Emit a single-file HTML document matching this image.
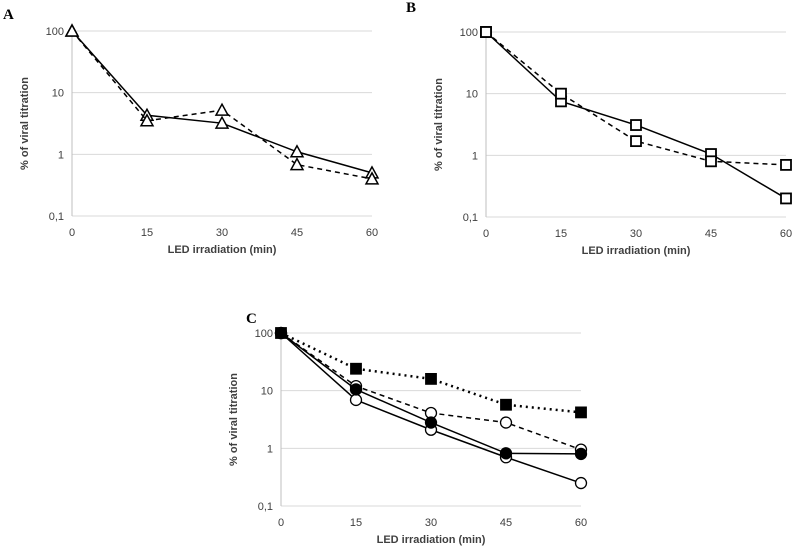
<!DOCTYPE html>
<html><head><meta charset="utf-8"><style>
body{margin:0;background:#fff;width:792px;height:548px;overflow:hidden}
svg{display:block;font-family:"Liberation Sans",sans-serif}
</style></head><body>
<svg id="chart" width="792" height="548"></svg>
<script>
const xCats=[0,15,30,45,60];
const yTicks=[100,10,1,0.1];
const yTickLabels=["100","10","1","0,1"];
const aSolid=[100,4.3,3.2,1.1,0.5];
const aDashed=[100,3.5,5.2,0.68,0.4];
const bSolid=[100,7.5,3.1,1.05,0.2];
const bDashed=[100,10,1.7,0.8,0.7];
const cDottedSq=[100,24,16,5.7,4.2];
const cDashedOpen=[100,12,4.1,2.8,0.95];
const cSolidFilled=[100,10.5,2.8,0.82,0.8];
const cSolidOpen=[100,6.9,2.1,0.7,0.25];

const NS="http://www.w3.org/2000/svg";
const svg=document.getElementById('chart');
function mk(t,a,p){const e=document.createElementNS(NS,t);for(const k in a)e.setAttribute(k,a[k]);(p||svg).appendChild(e);return e;}

function panel(name,letter,lx,ly,x0,x1,yTop,yBot,series){
  const g=mk('g',{});
  
  
  const xs=v=>x0+(v-0)/60*(x1-x0);
  const ys=v=>yTop+(2-Math.log10(v))/3*(yBot-yTop);
  const lt=mk('text',{x:lx,y:ly,'font-family':'Liberation Serif, serif','font-weight':'bold','font-size':15},g);
  lt.textContent=letter;
  
  
  yTicks.forEach((t,i)=>{
    const y=ys(t);
    const gl=mk('line',{x1:x0,x2:x1,y1:y,y2:y,stroke:'#d9d9d9','stroke-width':1},g);
    
    
    const tl=mk('text',{x:x0-8,y:y+4,'text-anchor':'end','font-size':11,fill:'#404040'},g);
    tl.textContent=yTickLabels[i];
    
    
  });
  const ax=mk('line',{x1:x0,x2:x0,y1:yTop,y2:yBot,stroke:'#bfbfbf','stroke-width':1},g);
  
  
  xCats.forEach(c=>{
    const tl=mk('text',{x:xs(c),y:yBot+20,'text-anchor':'middle','font-size':11,fill:'#404040'},g);
    tl.textContent=c;
    
    
  });
  const xt=mk('text',{x:(x0+x1)/2,y:yBot+37,'text-anchor':'middle','font-size':11,'font-weight':'bold',fill:'#404040'},g);
  xt.textContent='LED irradiation (min)';
  
  
  const cy=(yTop+yBot)/2, cx=x0-44;
  const yt=mk('text',{x:cx,y:cy,'text-anchor':'middle','font-size':11,'font-weight':'bold',fill:'#404040',transform:`rotate(-90 ${cx} ${cy})`},g);
  yt.textContent='% of viral titration';
  
  
  series.forEach(s=>{
    const pts=s.data.map((v,i)=>[xs(xCats[i]),ys(v)]);
    const pl=mk('polyline',{points:pts.map(p=>p.join(',')).join(' '),fill:'none',stroke:'#000','stroke-width':s.dash==='dot'?2.5:1.5,'stroke-dasharray':s.dash==='dash'?'5,4':(s.dash==='dot'?'2,4':'none')},g);
    
    
    pts.forEach(p=>{
      let m;
      if(s.marker==='tri'){m=mk('polygon',{points:`${p[0]},${p[1]-6} ${p[0]-6},${p[1]+5} ${p[0]+6},${p[1]+5}`,fill:'#fff',stroke:'#000','stroke-width':1.5},g);}
      else if(s.marker==='sq'){m=mk('rect',{x:p[0]-5,y:p[1]-5,width:10,height:10,fill:s.fill,stroke:'#000','stroke-width':1.8},g);}
      else {m=mk('circle',{cx:p[0],cy:p[1],r:5.5,fill:s.fill,stroke:'#000','stroke-width':1.3},g);}
      
      
    });
  });
}
panel('a','A',3,19,72,372,31,216,[
  {id:'a-solid',data:aSolid,dash:'none',marker:'tri'},
  {id:'a-dashed',data:aDashed,dash:'dash',marker:'tri'}]);
panel('b','B',406,12,486,786,32,217,[
  {id:'b-solid',data:bSolid,dash:'none',marker:'sq',fill:'#fff'},
  {id:'b-dashed',data:bDashed,dash:'dash',marker:'sq',fill:'#fff'}]);
panel('c','C',246,323,281,581,333,506,[
  {id:'c-dotted-square',data:cDottedSq,dash:'dot',marker:'sq',fill:'#000'},
  {id:'c-dashed-open',data:cDashedOpen,dash:'dash',marker:'circ',fill:'#fff'},
  {id:'c-solid-open',data:cSolidOpen,dash:'none',marker:'circ',fill:'#fff'},
  {id:'c-solid-filled',data:cSolidFilled,dash:'none',marker:'circ',fill:'#000'}]);
</script>
</body></html>
